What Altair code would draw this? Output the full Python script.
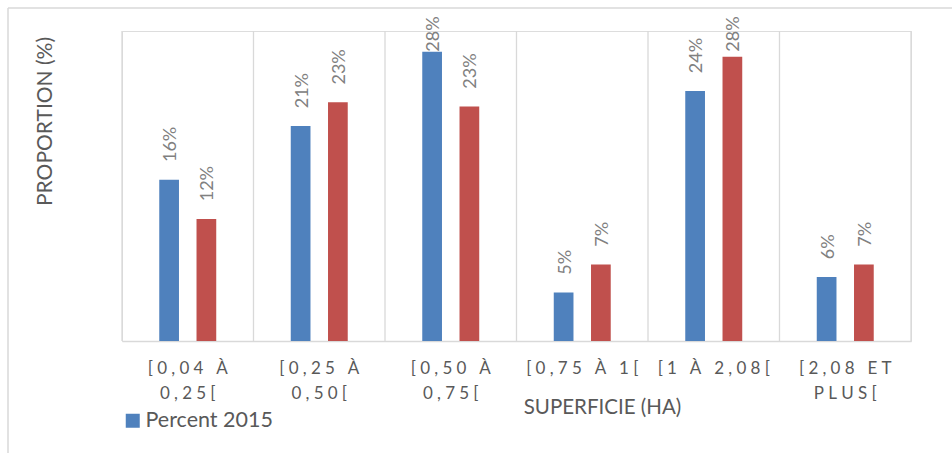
import altair as alt
import pandas as pd

# Farm size classes ("|" marks a line break in the axis label)
categories = ["[0,04 À|0,25[", "[0,25 À|0,50[", "[0,50 À|0,75[",
              "[0,75 À 1[", "[1 À 2,08[", "[2,08 ET|PLUS["]
series_names = ["Percent 2015", "Percent 2019"]
percent_2015 = [15.6, 20.8, 28.0, 4.7, 24.2, 6.2]
percent_2019 = [11.8, 23.1, 22.7, 7.4, 27.5, 7.4]

rows = []
for cat, a, b in zip(categories, percent_2015, percent_2019):
    rows.append({"cat": cat, "series": series_names[0], "v": a})
    rows.append({"cat": cat, "series": series_names[1], "v": b})
df = pd.DataFrame(rows)

FONT = "Lato"
TEXT = "#595959"
GRID = "#d9d9d9"

# letter-spaced, possibly two-line category labels
spaced = "join(split({s},''),'\u2009\u2009')"
label_expr = (
    "indexof(datum.label,'|') < 0 ? " + spaced.format(s="datum.label") +
    " : [" + spaced.format(s="split(datum.label,'|')[0]") + ", " +
    spaced.format(s="split(datum.label,'|')[1]") + "]"
)

x_enc = alt.X(
    "cat:N", sort=categories,
    scale=alt.Scale(paddingInner=0, paddingOuter=0),
    axis=alt.Axis(
        title="SUPERFICIE (HA)", titleFont=FONT, titleFontSize=20.5,
        titleFontWeight="normal", titleColor=TEXT,
        titleX=480, titleY=66, titleAlign="center", titleBaseline="middle",
        labelExpr=label_expr, labelAngle=0, labelAlign="center",
        labelFont=FONT, labelFontSize=17,
        labelColor=TEXT, labelPadding=19, labelLineHeight=25,
        labelBaseline="top", labelFlush=False, labelOverlap=False,
        ticks=False, grid=False, domainColor=GRID, domainWidth=1.3,
    ),
)
# two 18px bars per class, 34px apart, centred in the class
x_off = alt.XOffset(
    "series:N", sort=series_names,
    scale=alt.Scale(paddingInner=0.4706, paddingOuter=alt.ExprRef("1.169")),
)
y_enc = alt.Y(
    "v:Q", scale=alt.Scale(domain=[0, 30], nice=False),
    axis=alt.Axis(
        title="PROPORTION (%)", titleFont=FONT, titleFontSize=21,
        titleFontWeight="normal", titleColor=TEXT,
        titleX=-77, titleY=90, titleAngle=270, titleAlign="center",
        titleBaseline="middle",
        labels=False, ticks=False, domain=False, grid=False,
    ),
)

base = alt.Chart(df)

# vertical separators between size classes
cat_df = pd.DataFrame({"cat": categories})
sep_left = alt.Chart(cat_df).mark_rule(color=GRID, strokeWidth=1.3).encode(
    x=alt.X("cat:N", sort=categories, bandPosition=0)
)
sep_right = alt.Chart(cat_df.tail(1)).mark_rule(color=GRID, strokeWidth=1.3).encode(
    x=alt.X("cat:N", sort=categories, bandPosition=1)
)

bars = base.mark_bar().encode(
    x=x_enc,
    xOffset=x_off,
    y=y_enc,
    color=alt.Color(
        "series:N", sort=series_names,
        scale=alt.Scale(domain=series_names, range=["#4F81BD", "#C0504D"]),
        legend=alt.Legend(
            values=[series_names[0]], title=None, orient="none",
            legendX=0, legendY=379, symbolType="square", symbolSize=196,
            symbolStrokeWidth=0, labelFont=FONT, labelFontSize=21.5,
            labelColor=TEXT, labelOffset=2, padding=0,
        ),
    ),
)

labels = base.transform_calculate(
    ly="min(datum.v + 1.72, 28.0)",
    txt="format(datum.v, '.0f') + '%'",
).mark_text(
    angle=270, align="left", baseline="middle", font=FONT, fontSize=18,
    color="#808080", dy=2,
).encode(
    x=alt.X("cat:N", sort=categories),
    xOffset=x_off,
    y=alt.Y("ly:Q"),
    text="txt:N",
)

# outer chart frame (top and left edges)
one = pd.DataFrame({"k": [0]})
frame_top = alt.Chart(one).mark_rule(color=GRID, strokeWidth=1.5).encode(
    x=alt.value(-114), x2=alt.value(840), y=alt.value(-23)
)
frame_left = alt.Chart(one).mark_rule(color=GRID, strokeWidth=1.5).encode(
    x=alt.value(-114), y=alt.value(-23), y2=alt.value(430)
)

chart = alt.layer(
    frame_top, frame_left, sep_left, sep_right, bars, labels
).properties(
    width=789, height=310,
    autosize=alt.AutoSizeParams(type="none"),
    padding={"left": 122, "top": 31, "right": 41, "bottom": 112},
).configure_view(stroke=None).configure(background="white")

chart.save("out.html", embed_options={"renderer": "svg", "actions": False})
